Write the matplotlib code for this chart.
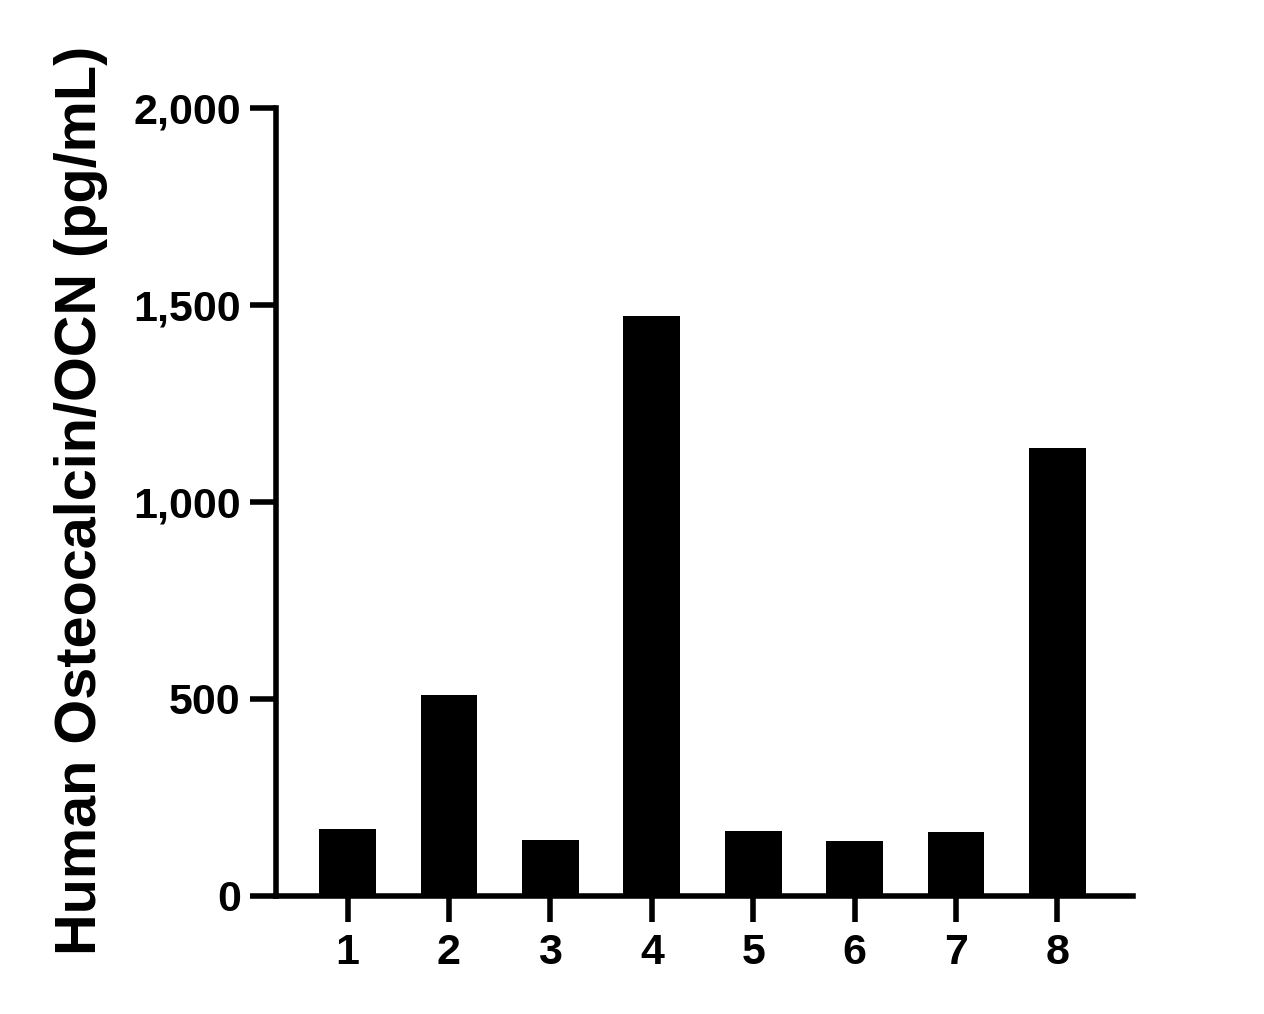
import matplotlib.pyplot as plt

# Werte
samples = ["1", "2", "3", "4", "5", "6", "7", "8"]
ocn_values = [170, 510, 142, 1472, 165, 140, 162, 1137]
y_ticks = [0, 500, 1000, 1500, 2000]
y_tick_labels = ["0", "500", "1,000", "1,500", "2,000"]

plt.rcParams["font.family"] = ["Liberation Sans", "DejaVu Sans"]
plt.rcParams["font.weight"] = "bold"

fig = plt.figure(figsize=(12.64, 10.14), dpi=100)
ax = fig.add_axes([0.218, 0.1164, 0.896 - 0.218, 0.8935 - 0.1164])

x = list(range(1, len(samples) + 1))
ax.bar(x, ocn_values, width=0.56, color="black")

ax.set_xlim(0.29, 8.74)
ax.set_ylim(0, 2000)
ax.set_xticks(x)
ax.set_xticklabels(samples)
ax.set_yticks(y_ticks)
ax.set_yticklabels(y_tick_labels)

for side in ["top", "right"]:
    ax.spines[side].set_visible(False)
for side in ["left", "bottom"]:
    ax.spines[side].set_linewidth(4)

ax.tick_params(axis="y", length=19, width=4, labelsize=31, pad=6)
ax.tick_params(axis="x", length=19, width=4, labelsize=31, pad=8)
for lbl in ax.get_xticklabels() + ax.get_yticklabels():
    lbl.set_fontweight("bold")

ax.set_ylabel("Human Osteocalcin/OCN (pg/mL)", fontsize=41.5, fontweight="bold")
ax.yaxis.set_label_coords(-0.195, 0.5025)

fig.savefig("out.png", dpi=100)
